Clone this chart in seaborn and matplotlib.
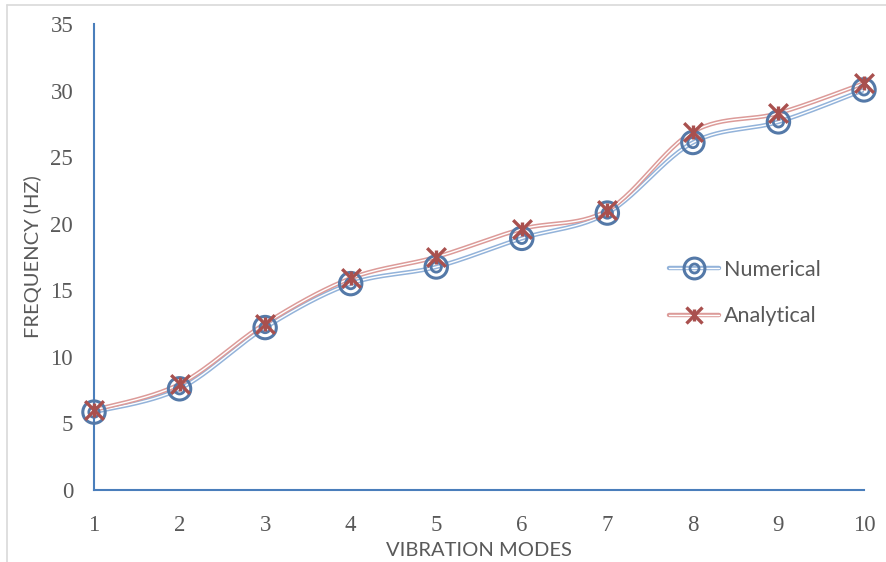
import numpy as np
import pandas as pd
import matplotlib
import matplotlib.pyplot as plt
import matplotlib.patheffects as pe
from matplotlib.lines import Line2D
from matplotlib.legend_handler import HandlerTuple
import seaborn as sns

matplotlib.use('Agg')

# Data
modes = [1, 2, 3, 4, 5, 6, 7, 8, 9, 10]
numerical = [5.85, 7.6, 12.2, 15.5, 16.75, 18.9, 20.8, 26.1, 27.65, 30.05]
analytical = [6.0, 7.95, 12.5, 15.9, 17.5, 19.6, 21.0, 26.9, 28.3, 30.55]
y_ticks = [0, 5, 10, 15, 20, 25, 30, 35]

blue_line = '#93b3da'
blue_mark = '#5479a8'
red_line = '#dc9b99'
red_mark = '#a9504e'


# Excel style smoothed line (cubic bezier through the points)
def smooth_curve(x, y, steps=30):
    x = np.asarray(x, float)
    y = np.asarray(y, float)
    n = len(x)
    xs, ys = [], []
    for i in range(n - 1):
        p0 = np.array([x[i], y[i]])
        p3 = np.array([x[i + 1], y[i + 1]])
        prev = np.array([x[max(i - 1, 0)], y[max(i - 1, 0)]])
        nxt = np.array([x[min(i + 2, n - 1)], y[min(i + 2, n - 1)]])
        p1 = p0 + (p3 - prev) / 6.0
        p2 = p3 - (nxt - p0) / 6.0
        t = np.linspace(0, 1, steps)[:, None]
        pts = ((1 - t) ** 3) * p0 + 3 * ((1 - t) ** 2) * t * p1 + 3 * (1 - t) * t ** 2 * p2 + t ** 3 * p3
        xs.extend(pts[:, 0])
        ys.extend(pts[:, 1])
    return pd.DataFrame({'x': xs, 'y': ys})


def double_line(color):
    return [pe.Stroke(linewidth=3.2, foreground=color),
            pe.Stroke(linewidth=1.0, foreground='white')]


sns.set_style('white')
plt.rcParams['font.family'] = ['Liberation Serif', 'DejaVu Sans']

fig = plt.figure(figsize=(8.86, 5.62), dpi=100)
ax = fig.add_axes([94 / 886, 72 / 562, 770 / 886, 466 / 562])

df = pd.DataFrame({'mode': modes, 'Numerical': numerical, 'Analytical': analytical})

series = [('Numerical', blue_line, blue_mark), ('Analytical', red_line, red_mark)]
for name, lc, mc in series:
    curve = smooth_curve(df['mode'], df[name])
    sns.lineplot(data=curve, x='x', y='y', ax=ax, estimator=None, sort=False,
                 color=lc, linewidth=3.2, path_effects=double_line(lc), zorder=3)
    if name == 'Numerical':
        sns.scatterplot(data=df, x='mode', y=name, ax=ax, marker='o', s=260,
                        facecolor='none', edgecolor=mc, linewidth=2.2, zorder=4, clip_on=False)
        sns.scatterplot(data=df, x='mode', y=name, ax=ax, marker='o', s=55,
                        facecolor='none', edgecolor=mc, linewidth=2.0, zorder=4, clip_on=False)
    else:
        sns.scatterplot(data=df, x='mode', y=name, ax=ax, marker='x', s=180,
                        color=mc, linewidth=2.4, zorder=5, clip_on=False)
        sns.scatterplot(data=df, x='mode', y=name, ax=ax, marker='|', s=90,
                        color=mc, linewidth=2.4, zorder=5, clip_on=False)

ax.set_xlim(1, 10)
ax.set_ylim(0, 35)
ax.set_xticks(modes)
ax.set_yticks(y_ticks)
ax.tick_params(axis='both', length=0, labelsize=16.5, labelcolor='#595959')
ax.tick_params(axis='x', pad=18)
ax.tick_params(axis='y', pad=15)
for side in ['top', 'right']:
    ax.spines[side].set_visible(False)
for side in ['left', 'bottom']:
    ax.spines[side].set_color('#4a7ebb')
    ax.spines[side].set_linewidth(1.5)

ax.set_xlabel('VIBRATION MODES', fontsize=14.5, color='#595959', family='Lato', labelpad=4)
ax.set_ylabel('FREQUENCY (HZ)', fontsize=14.5, color='#595959', family='Lato', labelpad=6)

# Legend with double lines and composite markers
handles = []
for name, lc, mc in series:
    base = Line2D([], [], color=lc, linewidth=3.2, path_effects=double_line(lc))
    if name == 'Numerical':
        m1 = Line2D([], [], linestyle='none', marker='o', markersize=15, markerfacecolor='none',
                    markeredgecolor=mc, markeredgewidth=2.2)
        m2 = Line2D([], [], linestyle='none', marker='o', markersize=6.5, markerfacecolor='none',
                    markeredgecolor=mc, markeredgewidth=2.0)
    else:
        m1 = Line2D([], [], linestyle='none', marker='x', markersize=12, color=mc, markeredgewidth=2.4)
        m2 = Line2D([], [], linestyle='none', marker='|', markersize=9, color=mc, markeredgewidth=2.4)
    handles.append((base, m1, m2))

leg = ax.legend(handles, [s[0] for s in series], handler_map={tuple: HandlerTuple(ndivide=1, pad=0)},
                loc='center left', bbox_to_anchor=(650 / 886, (562 - 293) / 562),
                bbox_transform=fig.transFigure, frameon=False, handlelength=2.3,
                labelspacing=1.25, handletextpad=0.25, prop={'family': 'Lato', 'size': 15.5})
for t in leg.get_texts():
    t.set_color('#595959')

# light chart frame
fig.add_artist(Line2D([7 / 886, 7 / 886], [0, 1 - 5 / 562], transform=fig.transFigure,
                      color='#d9d9d9', linewidth=1.2))
fig.add_artist(Line2D([7 / 886, 1], [1 - 5 / 562, 1 - 5 / 562], transform=fig.transFigure,
                      color='#d9d9d9', linewidth=1.2))

fig.savefig('out.png', dpi=100)
